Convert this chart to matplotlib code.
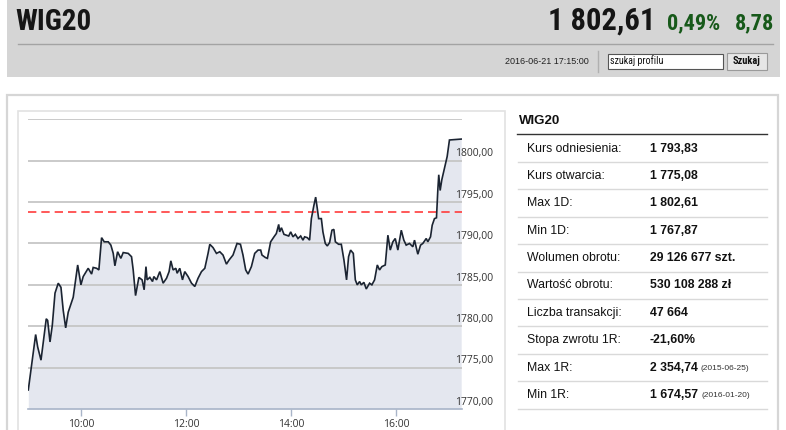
import matplotlib
matplotlib.use("Agg")
import matplotlib.pyplot as plt
from matplotlib.patches import Rectangle
from matplotlib import font_manager as fm
import matplotlib.transforms as mtrans

# ---------------- data ----------------
index_name = "WIG20"
last_price = "1 802,61"
change_pct = "0,49%"
change_abs = "8,78"
timestamp = "2016-06-21 17:15:00"

# minutes after 09:00 and index level
minutes = [0, 8.4, 10.7, 14.5, 20.5, 22.1, 24.8, 27.4, 30.5, 34.2, 37.3, 39.9, 42.7, 45.6,
           51.3, 56.4, 60.1, 62.7, 68.4, 72.3, 74.1, 78.0, 80.6, 83.7, 86.7, 91.3, 94.3,
           97.0, 98.9, 102.0, 105.7, 108.4, 114.1, 117.9, 119.8, 122.5, 126.3, 130.0, 132.3,
           134.4, 135.7, 138.8, 141.9, 143.4, 146.5, 150.2, 154.0, 157.9, 160.8, 162.8, 165.4,
           168.5, 170.0, 173.0, 176.1, 178.7, 182.5, 186.4, 190.2, 193.9, 197.8, 201.6, 205.3,
           207.3, 211.0, 214.9, 218.7, 222.4, 226.3, 229.3, 233.8, 238.4, 242.3, 245.2, 248.3,
           251.0, 254.8, 258.6, 262.4, 265.4, 266.9, 270.8, 273.1, 276.8, 280.6, 283.3, 286.0,
           287.1, 289.1, 292.0, 294.8, 297.4, 299.7, 302.3, 305.0, 308.0, 311.1, 313.7, 315.6,
           318.7, 321.3, 323.3, 326.2, 328.2, 330.1, 331.6, 334.7, 336.5, 339.2, 341.5, 344.1,
           346.8, 349.0, 350.7, 354.4, 357.5, 360.5, 363.5, 365.8, 368.1, 371.2, 373.5, 375.7,
           378.4, 380.3, 383.3, 386.0, 389.8, 392.4, 395.5, 398.6, 401.2, 403.8, 407.7, 410.7,
           413.4, 416.4, 419.1, 422.1, 426.0, 428.9, 431.6, 435.4, 439.2, 441.1, 444.9, 448.0,
           450.6, 454.5, 456.3, 459.4, 461.3, 463.9, 466.2, 467.7, 468.8, 470.4, 472.3, 475.3,
           478.4, 481.0, 494.4]
values = [1772.3, 1779.0, 1777.5, 1775.9, 1780.9, 1780.7, 1778.1, 1780.1, 1784.0, 1785.2, 1784.7,
          1781.9, 1779.8, 1781.7, 1783.5, 1787.4, 1785.0, 1786.0, 1787.0, 1786.3, 1787.1, 1787.0,
          1786.8, 1790.7, 1790.2, 1790.2, 1789.8, 1788.8, 1787.3, 1789.0, 1788.2, 1788.9, 1788.8,
          1788.4, 1786.8, 1783.7, 1785.9, 1785.6, 1784.4, 1787.2, 1785.6, 1785.9, 1785.4, 1786.0,
          1785.6, 1786.6, 1785.2, 1785.8, 1786.6, 1787.9, 1786.8, 1787.0, 1786.4, 1787.0, 1785.6,
          1786.6, 1786.0, 1785.2, 1784.8, 1785.8, 1786.6, 1787.0, 1788.8, 1789.9, 1789.5, 1788.8,
          1789.0, 1788.6, 1787.5, 1788.0, 1788.6, 1790.0, 1789.9, 1788.6, 1786.8, 1786.3, 1787.2,
          1788.8, 1789.2, 1789.2, 1788.6, 1788.3, 1788.2, 1790.2, 1790.8, 1791.2, 1792.3, 1791.4,
          1791.9, 1791.1, 1791.0, 1790.9, 1791.4, 1790.8, 1791.1, 1790.6, 1790.9, 1790.4, 1790.8,
          1790.7, 1790.4, 1793.0, 1794.6, 1795.6, 1794.2, 1793.0, 1793.0, 1791.4, 1790.0, 1789.7,
          1790.1, 1791.6, 1791.7, 1790.2, 1789.9, 1789.9, 1788.0, 1785.6, 1788.4, 1789.2, 1788.8,
          1785.6, 1785.0, 1785.4, 1785.0, 1785.3, 1784.5, 1785.2, 1785.0, 1785.6, 1787.4, 1786.8,
          1787.2, 1787.4, 1791.0, 1789.2, 1790.2, 1790.6, 1789.2, 1791.6, 1790.4, 1789.8, 1790.0,
          1789.6, 1790.4, 1788.7, 1789.8, 1790.0, 1790.6, 1790.2, 1790.8, 1792.2, 1793.0, 1793.1,
          1796.4, 1798.3, 1796.4, 1797.7, 1799.1, 1800.5, 1802.5, 1802.61]

reference_level = 1793.83
y_ticks = [1770, 1775, 1780, 1785, 1790, 1795, 1800]
y_tick_labels = ["1770,00", "1775,00", "1780,00", "1785,00", "1790,00", "1795,00", "1800,00"]
x_ticks = [60, 180, 300, 420]
x_tick_labels = ["10:00", "12:00", "14:00", "16:00"]

table_title = "WIG20"
table_labels = ["Kurs odniesienia:", "Kurs otwarcia:", "Max 1D:", "Min 1D:", "Wolumen obrotu:",
                "Wartość obrotu:", "Liczba transakcji:", "Stopa zwrotu 1R:", "Max 1R:", "Min 1R:"]
table_values = ["1 793,83", "1 775,08", "1 802,61", "1 767,87", "29 126 677 szt.",
                "530 108 288 zł", "47 664", "-21,60%", "2 354,74", "1 674,57"]
table_notes = ["", "", "", "", "", "", "", "", "(2015-06-25)", "(2016-01-20)"]

# ---------------- fonts ----------------
available = {f.name for f in fm.fontManager.ttflist}
def pick(*names):
    for n in names:
        if n in available:
            return n
    return "DejaVu Sans"
condensed = pick("Liberation Sans Narrow", "DejaVu Sans Condensed", "Roboto Condensed", "Liberation Sans")
arial = pick("Liberation Sans", "Arial", "DejaVu Sans")
chart_font = pick("Open Sans", "Noto Sans", "DejaVu Sans")

W, H = 786, 430
fig = plt.figure(figsize=(W / 100, H / 100), dpi=100)
fig.patch.set_facecolor("white")

bg = fig.add_axes([0, 0, 1, 1])
bg.set_xlim(0, W)
bg.set_ylim(H, 0)
bg.axis("off")

# header
bg.add_patch(Rectangle((7, 0), 773, 77, facecolor="#d5d5d5", edgecolor="none"))
bg.plot([18, 773], [44, 44], color="#a3a3a3", lw=1)
bg.text(15, 22, index_name, fontsize=21, family=condensed, fontweight="bold", color="#151515",
        va="center", ha="left")
bg.text(655, 21, last_price, fontsize=22, family=condensed, fontweight="bold", color="#151515",
        va="center", ha="right")
bg.text(667, 23, change_pct, fontsize=16, family=condensed, fontweight="bold", color="#17591a",
        va="center", ha="left")
bg.text(735, 23, change_abs, fontsize=16, family=condensed, fontweight="bold", color="#17591a",
        va="center", ha="left")
bg.text(589, 61, timestamp, fontsize=6.5, family=arial, color="#222222", va="center", ha="right")
bg.plot([598, 598], [51, 72], color="#b0b0b0", lw=1)
bg.add_patch(Rectangle((607.5, 53.5), 115, 15, facecolor="white", edgecolor="#555555", lw=0.8))
bg.text(610, 60.5, "szukaj profilu", fontsize=7.2, family=condensed, color="#111111", va="center")
bg.add_patch(Rectangle((727, 53), 40, 17, facecolor="#e6e6e6", edgecolor="#9a9a9a", lw=0.8))
bg.text(747, 61.5, "Szukaj", fontsize=7.5, family=condensed, fontweight="bold", color="#111111",
        va="center", ha="center")

# panels
bg.add_patch(Rectangle((7, 95), 771, 345, facecolor="white", edgecolor="#d6d6d6", lw=1.6))
bg.add_patch(Rectangle((18, 111), 487, 330, facecolor="white", edgecolor="#e2e2e2", lw=1.2))

# table
bg.text(519, 121, table_title, fontsize=9.5, family=arial, fontweight="bold", color="#111111", va="center")
bg.plot([517, 767], [134.3, 134.3], color="#333333", lw=1)
row0, step = 148.5, 27.4
renderer = fig.canvas.get_renderer()
note_tr = mtrans.blended_transform_factory(mtrans.IdentityTransform(), bg.transData)
for i, (lab, val, note) in enumerate(zip(table_labels, table_values, table_notes)):
    y = row0 + i * step
    bg.text(527, y, lab, fontsize=8.8, family=arial, color="#111111", va="center")
    t = bg.text(650, y, val, fontsize=8.8, family=arial, fontweight="bold", color="#111111", va="center")
    if note:
        bb = t.get_window_extent(renderer=renderer)
        bg.text(bb.x1 + 3, y + 0.5, note, fontsize=6, family=arial, color="#333333", va="center",
                transform=note_tr)
    bg.plot([518, 767], [y + 13.5, y + 13.5], color="#d9d9d9", lw=1)

# chart
x0, x1 = 28.3, 461.7
ytop, ybot = 119.3, 409.0
ax = fig.add_axes([x0 / W, 1 - ybot / H, (x1 - x0) / W, (ybot - ytop) / H])
ax.set_facecolor("none")
ax.set_xlim(0, 495)
ax.set_ylim(1770, 1805)
ax.fill_between(minutes, values, 1770, color="#e4e7ef", lw=0, zorder=1)
for yv in y_ticks[1:] + [1805]:
    ax.axhline(yv, color="#c6c6c6", lw=1.3, zorder=2)
ax.axhline(reference_level, color="#ff3c3c", lw=1.2, ls=(0, (5, 3)), zorder=3)
ax.plot(minutes, values, color="#1b2432", lw=1.2, zorder=4, solid_joinstyle="miter")

for sp in ["top", "right", "left"]:
    ax.spines[sp].set_visible(False)
ax.spines["bottom"].set_color("#a9b5c9")
ax.spines["bottom"].set_linewidth(1.2)
ax.set_yticks([])
ax.set_xticks(x_ticks)
ax.set_xticklabels(x_tick_labels, fontsize=7.5, family=chart_font, color="#333333")
ax.tick_params(axis="x", length=5, width=1, color="#a9b5c9", pad=2)
ytr = ax.get_yaxis_transform()
for yv, lab in zip(y_ticks, y_tick_labels):
    ax.text(0.984, yv + 0.15, lab, transform=ytr, fontsize=7.5, family=chart_font, color="#333333",
            ha="left", va="bottom", clip_on=False)

fig.savefig("out.png", dpi=100, facecolor="white")
